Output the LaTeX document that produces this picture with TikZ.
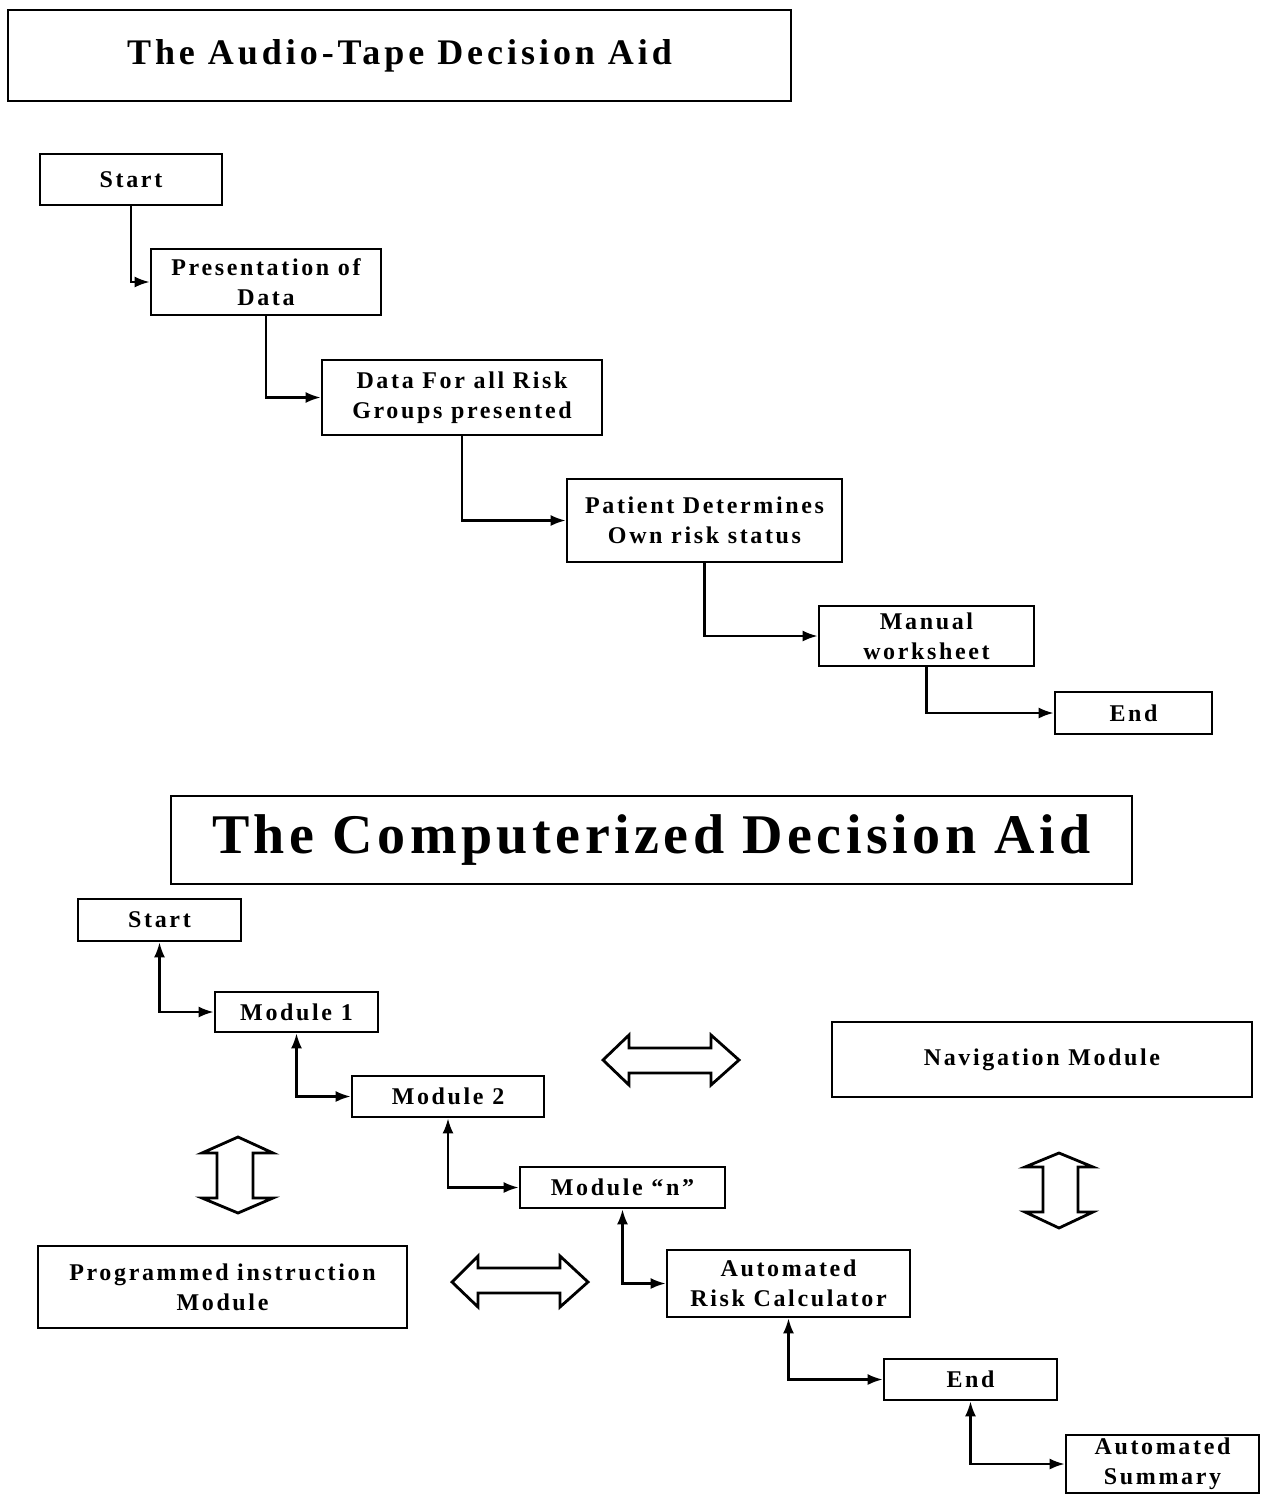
\documentclass[tikz,border=0pt]{standalone}
\usepackage{fontspec}
\setmainfont{Liberation Serif}
\usetikzlibrary{arrows.meta}
\newcommand\myboxfont{\bfseries\fontsize{24}{30}\selectfont\addfontfeature{LetterSpace=11}}
\newcommand\mytitlefonta{\bfseries\fontsize{36}{40}\selectfont\addfontfeature{LetterSpace=11}}
\newcommand\mytitlefontb{\bfseries\fontsize{56}{60}\selectfont\addfontfeature{LetterSpace=8}}
\begin{document}
\begin{tikzpicture}[x=1pt,y=-1pt,
  box/.style={draw, line width=2.6pt, inner sep=0pt, align=center, font=\myboxfont},
  titlebox/.style={draw, line width=2.2pt, inner sep=0pt, align=center},
  conn/.style={line width=2.4pt, -{Latex[length=15pt,width=11pt]}},
  bconn/.style={line width=2.4pt, {Latex[length=15pt,width=11pt]}-{Latex[length=15pt,width=11pt]}},
  hollow/.style={draw, line width=2.8pt, fill=white, line join=miter}]
\useasboundingbox (0,0) rectangle (1263,1494);
\fill[white] (0,0) rectangle (1263,1494);

% ---- top part ----
\node[titlebox, minimum width=783pt, minimum height=91pt, font=\mytitlefonta] (T1) at (399.5,55.5) {The Audio-Tape Decision Aid};
\node[box, minimum width=182pt, minimum height=51pt] (s1) at (131,179.5) {Start};
\node[box, minimum width=230pt, minimum height=66pt] (p1) at (266,282) {Presentation of\\Data};
\node[box, minimum width=280pt, minimum height=75pt] (d1) at (462,397.5) {Data For all Risk\\Groups presented};
\node[box, minimum width=275pt, minimum height=83pt] (pt) at (704.5,520.5) {Patient Determines\\Own risk status};
\node[box, minimum width=215pt, minimum height=60pt] (m1) at (926.5,636) {Manual\\worksheet};
\node[box, minimum width=157pt, minimum height=42pt] (e1) at (1133.5,713) {End};

\draw[conn] (s1.south) |- (p1.west);
\draw[conn] (p1.south) |- (d1.west);
\draw[conn] (d1.south) |- (pt.west);
\draw[conn] (pt.south) |- (m1.west);
\draw[conn] (m1.south) |- (e1.west);

% ---- bottom part ----
\node[titlebox, minimum width=961pt, minimum height=88pt, font=\mytitlefontb] (T2) at (651.5,840) {The Computerized Decision Aid};
\node[box, minimum width=163pt, minimum height=42pt] (s2) at (159.5,920) {Start};
\node[box, minimum width=163pt, minimum height=40pt] (mod1) at (296.5,1012) {Module 1};
\node[box, minimum width=192pt, minimum height=41pt] (mod2) at (448,1096.5) {Module 2};
\node[box, minimum width=205pt, minimum height=41pt] (modn) at (622.5,1187.5) {Module “n”};
\node[box, minimum width=243pt, minimum height=67pt] (arc) at (788.5,1283.5) {Automated\\Risk Calculator};
\node[box, minimum width=173pt, minimum height=41pt] (e2) at (970.5,1379.5) {End};
\node[box, minimum width=193pt, minimum height=58pt] (as) at (1162.5,1464) {Automated\\Summary};
\node[box, minimum width=420pt, minimum height=75pt] (nav) at (1042,1059.5) {Navigation Module};
\node[box, minimum width=369pt, minimum height=82pt] (prog) at (222.5,1287) {Programmed instruction\\Module};

\draw[bconn] (s2.south) |- (mod1.west);
\draw[bconn] (mod1.south) |- (mod2.west);
\draw[bconn] (mod2.south) |- (modn.west);
\draw[bconn] (modn.south) |- (arc.west);
\draw[bconn] (arc.south) |- (e2.west);
\draw[bconn] (e2.south) |- (as.west);

% hollow double arrows
\draw[hollow] (603,1060) -- (629,1035) -- (629,1048) -- (711,1048) -- (711,1035) -- (739,1060) -- (711,1085) -- (711,1073) -- (629,1073) -- (629,1085) -- cycle;
\draw[hollow] (452,1282) -- (478,1256) -- (478,1268) -- (560,1268) -- (560,1256) -- (588,1282) -- (560,1307) -- (560,1293) -- (478,1293) -- (478,1307) -- cycle;
\draw[hollow] (238,1137) -- (273,1153) -- (253,1153) -- (253,1198) -- (273,1198) -- (238,1213) -- (202,1198) -- (217,1198) -- (217,1153) -- (202,1153) -- cycle;
\draw[hollow] (1059,1153) -- (1093,1167) -- (1078,1167) -- (1078,1212) -- (1093,1212) -- (1059,1228) -- (1025,1212) -- (1043,1212) -- (1043,1167) -- (1025,1167) -- cycle;
\end{tikzpicture}
\end{document}
